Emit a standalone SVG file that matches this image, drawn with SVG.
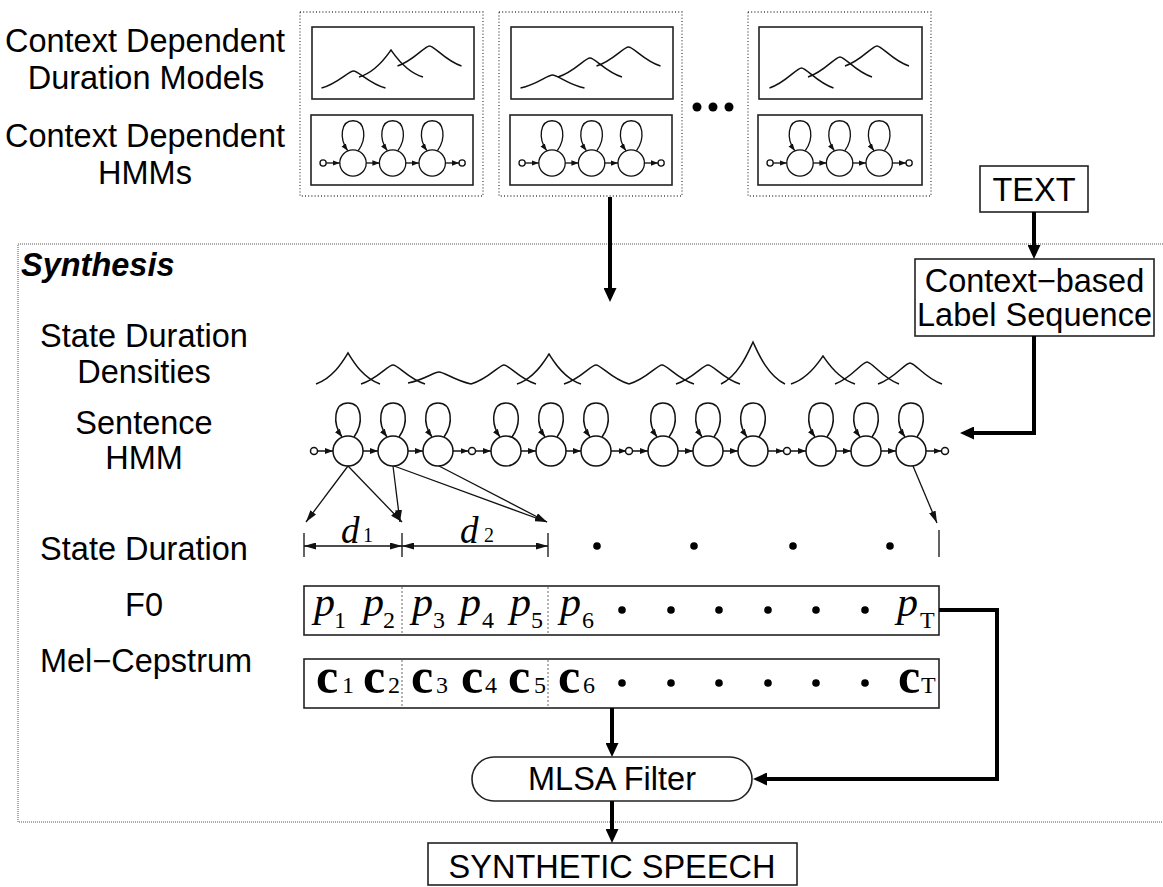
<svg xmlns="http://www.w3.org/2000/svg" xmlns:xlink="http://www.w3.org/1999/xlink" width="1163" height="887" viewBox="0 0 1163 887">
  <style>
    .lbl { font-family: "Liberation Sans", Arial, sans-serif; font-size: 32.5px; fill: #000; }
    .lblc { font-family: "Liberation Sans", Arial, sans-serif; font-size: 32.5px; fill: #000; text-anchor: middle; }
    .title { font-family: "Liberation Sans", Arial, sans-serif; font-size: 32.5px; font-weight: bold; font-style: italic; fill: #000; }
    .pv { font-family: "Liberation Serif", "Times New Roman", serif; font-size: 42px; font-style: italic; fill: #000; }
    .cv { font-family: "Liberation Serif", "Times New Roman", serif; font-size: 50px; font-weight: bold; fill: #000; }
    .dv { font-family: "Liberation Serif", "Times New Roman", serif; font-size: 37px; font-style: italic; fill: #000; }
    .sub { font-family: "Liberation Serif", "Times New Roman", serif; font-size: 24px; fill: #000; }
    .subd { font-family: "Liberation Serif", "Times New Roman", serif; font-size: 20px; fill: #000; }
    .box { fill: #fff; stroke: #222; stroke-width: 1.6; }
    .dotbox { fill: none; stroke: #444; stroke-width: 1.3; stroke-dasharray: 1 2.2; }
    .fine { fill: none; stroke: #555; stroke-width: 1; stroke-dasharray: 1 1; }
    .sep { fill: none; stroke: #666; stroke-width: 1; stroke-dasharray: 2 2; }
    .pdf { fill: none; stroke: #111; stroke-width: 1.5; }
    .st { fill: #fff; stroke: #111; stroke-width: 1.5; }
    .tr { fill: none; stroke: #111; stroke-width: 1.5; marker-end: url(#sm); }
    .thin { fill: none; stroke: #111; stroke-width: 1.3; marker-end: url(#ta); }
    .dim { fill: none; stroke: #111; stroke-width: 1.3; marker-start: url(#da); marker-end: url(#da); }
    .tick { fill: none; stroke: #111; stroke-width: 1.3; }
    .thick { fill: none; stroke: #000; stroke-width: 4; marker-end: url(#big); }
    .dot { fill: #000; }
  </style>
  <defs>
    <marker id="sm" markerUnits="userSpaceOnUse" markerWidth="8" markerHeight="6" refX="8" refY="3" orient="auto">
      <path d="M0,0 L8,3 L0,6 z" fill="#111"/>
    </marker>
    <marker id="ta" markerUnits="userSpaceOnUse" markerWidth="12" markerHeight="7" refX="12" refY="3.5" orient="auto">
      <path d="M0,0 L12,3.5 L0,7 z" fill="#111"/>
    </marker>
    <marker id="da" markerUnits="userSpaceOnUse" markerWidth="12" markerHeight="7" refX="12" refY="3.5" orient="auto-start-reverse">
      <path d="M0,0 L12,3.5 L0,7 z" fill="#111"/>
    </marker>
    <marker id="big" markerUnits="userSpaceOnUse" markerWidth="14" markerHeight="13" refX="9" refY="6.5" orient="auto">
      <path d="M0,0 L14,6.5 L0,13 z" fill="#000"/>
    </marker>
    <!-- one HMM state: circle with a self-loop -->
    <g id="state">
      <path class="tr" d="M6,-14 C16,-28 14,-48 0,-48 C-14,-48 -16,-28 -6,-14"/>
      <circle class="st" cx="0" cy="0" r="15"/>
    </g>
    <!-- three-state left-to-right model, entry node included, exit node drawn separately -->
    <g id="model">
      <circle class="st" cx="-34" cy="0" r="3.5"/>
      <path class="tr" d="M-30.5,0 H-15"/>
      <use xlink:href="#state" x="0" y="0"/>
      <path class="tr" d="M15,0 H30"/>
      <use xlink:href="#state" x="45" y="0"/>
      <path class="tr" d="M60,0 H75"/>
      <use xlink:href="#state" x="90" y="0"/>
      <path class="tr" d="M105,0 H120.5"/>
    </g>
  </defs>

  <rect width="1163" height="887" fill="#fff"/>

  <!-- left-hand labels -->
  <g id="labels">
    <text class="lblc" x="145" y="52">Context Dependent</text>
    <text class="lblc" x="146" y="89">Duration Models</text>
    <text class="lblc" x="145" y="147">Context Dependent</text>
    <text class="lblc" x="145" y="184">HMMs</text>
    <text class="title" x="21" y="276">Synthesis</text>
    <text class="lblc" x="144" y="347">State Duration</text>
    <text class="lblc" x="144" y="383">Densities</text>
    <text class="lblc" x="144" y="434">Sentence</text>
    <text class="lblc" x="144" y="469">HMM</text>
    <text class="lblc" x="144" y="560">State Duration</text>
    <text class="lblc" x="144" y="616">F0</text>
    <text class="lblc" x="146" y="672">Mel−Cepstrum</text>
  </g>

  <!-- synthesis frame -->
  <g id="synthesis-frame">
    <path class="fine" d="M1163,244 H18 V822 H1163"/>
  </g>

  <!-- context dependent model sets -->
  <g id="model-set-1">
    <rect class="dotbox" x="300" y="12" width="183" height="184"/>
    <rect class="box" x="312" y="27" width="162" height="72"/>
    <path class="pdf" d="M321.5,88 C337.5,83.75 348.5,71 353.5,71 C358.5,71 369.5,83.75 385.5,88"/>
    <path class="pdf" d="M359,77 C377,71.6 387,55.4 391,50 C395,55.4 405,71.6 423,77"/>
    <path class="pdf" d="M397.5,66 C413.5,61 424.5,46 429.5,46 C434.5,46 445.5,61 461.5,66"/>
    <rect class="box" x="311" y="115" width="162" height="70"/>
    <g transform="translate(353,163) scale(0.88)">
      <use xlink:href="#model"/>
      <circle class="st" cx="124" cy="0" r="3.5"/>
    </g>
  </g>
  <g id="model-set-2">
    <rect class="dotbox" x="499" y="12" width="183" height="184"/>
    <rect class="box" x="511" y="27" width="162" height="72"/>
    <path class="pdf" d="M520.5,88 C536.5,84.75 547.5,75 552.5,75 C557.5,75 568.5,84.75 584.5,88"/>
    <path class="pdf" d="M558,77 C574,72.25 585,58 590,58 C595,58 606,72.25 622,77"/>
    <path class="pdf" d="M596.5,66 C612.5,61.25 623.5,47 628.5,47 C633.5,47 644.5,61.25 660.5,66"/>
    <rect class="box" x="510" y="115" width="162" height="70"/>
    <g transform="translate(552,163) scale(0.88)">
      <use xlink:href="#model"/>
      <circle class="st" cx="124" cy="0" r="3.5"/>
    </g>
  </g>
  <g id="ellipsis">
    <circle class="dot" cx="697" cy="107" r="4.5"/>
    <circle class="dot" cx="713" cy="107" r="4.5"/>
    <circle class="dot" cx="729" cy="107" r="4.5"/>
  </g>
  <g id="model-set-n">
    <rect class="dotbox" x="748" y="12" width="183" height="184"/>
    <rect class="box" x="759" y="27" width="163" height="72"/>
    <path class="pdf" d="M769.5,88 C785.5,83 796.5,68 801.5,68 C806.5,68 817.5,83 833.5,88"/>
    <path class="pdf" d="M808,77 C824,72 835,57 840,57 C845,57 856,72 872,77"/>
    <path class="pdf" d="M845,66 C861,61 872,46 877,46 C882,46 893,61 909,66"/>
    <rect class="box" x="758" y="115" width="164" height="70"/>
    <g transform="translate(800,163) scale(0.88)">
      <use xlink:href="#model"/>
      <circle class="st" cx="124" cy="0" r="3.5"/>
    </g>
  </g>

  <!-- text input and label sequence -->
  <g id="text-node">
    <rect class="box" x="980" y="166" width="108" height="46"/>
    <text class="lblc" x="1034" y="201">TEXT</text>
  </g>
  <g id="label-sequence">
    <rect class="box" x="915" y="259" width="239" height="77"/>
    <text class="lblc" x="1034.5" y="292">Context−based</text>
    <text class="lblc" x="1034.5" y="326">Label Sequence</text>
  </g>

  <!-- state duration densities -->
  <g id="duration-densities">
    <path class="pdf" d="M316,384 C334,377.8 344,359.2 348,353 C352,359.2 362,377.8 380,384"/>
    <path class="pdf" d="M361,384 C377,379.25 388,365 393,365 C398,365 409,379.25 425,384"/>
    <path class="pdf" d="M408,383 C424,380 434,372 439,372 C444,372 454,380 471,384"/>
    <path class="pdf" d="M471,384 C488,379.25 499,365 504,365 C509,365 520,379.25 536,384"/>
    <path class="pdf" d="M517,384 C535,378 545,360 549,354 C553,360 563,378 581,384"/>
    <path class="pdf" d="M564,384 C580,379.25 591,365 596,365 C601,365 612,379.25 629,384"/>
    <path class="pdf" d="M629,384 C646,379.25 657,365 662,365 C667,365 678,379.25 694,384"/>
    <path class="pdf" d="M676,384 C692,379.25 703,365 708,365 C713,365 724,379.25 740,384"/>
    <path class="pdf" d="M721,384 C739,375.6 749,350.4 753,342 C757,350.4 767,375.6 785,384"/>
    <path class="pdf" d="M791,384 C809,378.4 819,361.6 823,356 C827,361.6 837,378.4 855,384"/>
    <path class="pdf" d="M835,384 C851,378.5 862,362 867,362 C872,362 883,378.5 899,384"/>
    <path class="pdf" d="M878,384 C894,378.75 905,363 910,363 C915,363 926,378.75 942,384"/>
  </g>

  <!-- sentence HMM -->
  <g id="sentence-hmm">
    <use xlink:href="#model" x="348" y="451"/>
    <use xlink:href="#model" x="506" y="451"/>
    <use xlink:href="#model" x="663" y="451"/>
    <use xlink:href="#model" x="821" y="451"/>
    <circle class="st" cx="945" cy="451" r="3.5"/>
  </g>

  <!-- state durations -->
  <g id="state-duration">
    <path class="thin" d="M348,466 L306,522"/>
    <path class="thin" d="M348,466 L402,522"/>
    <path class="thin" d="M393,466 L400,522"/>
    <path class="thin" d="M394,466 L547,522"/>
    <path class="thin" d="M439,466 L547,522"/>
    <path class="thin" d="M913,466 L937,523"/>
    <path class="tick" d="M304,533 V557 M402,533 V557 M548,533 V557 M939,530 V557"/>
    <path class="dim" d="M304,546 H402"/>
    <path class="dim" d="M402,546 H548"/>
    <text class="dv" x="341" y="543">d</text>
    <text class="subd" x="363" y="542">1</text>
    <text class="dv" x="460" y="543">d</text>
    <text class="subd" x="484" y="542">2</text>
    <circle class="dot" cx="597" cy="546" r="3.8"/>
    <circle class="dot" cx="694" cy="546" r="3.8"/>
    <circle class="dot" cx="793" cy="546" r="3.8"/>
    <circle class="dot" cx="890" cy="546" r="3.8"/>
  </g>

  <!-- F0 parameter sequence -->
  <g id="f0">
    <rect class="box" x="304" y="586" width="635" height="49"/>
    <path class="sep" d="M402,587 V634 M548,587 V634"/>
    <text class="pv" x="314" y="616">p</text><text class="sub" x="334" y="628">1</text>
    <text class="pv" x="363" y="616">p</text><text class="sub" x="383" y="628">2</text>
    <text class="pv" x="412" y="616">p</text><text class="sub" x="433" y="628">3</text>
    <text class="pv" x="460" y="616">p</text><text class="sub" x="482" y="628">4</text>
    <text class="pv" x="510" y="616">p</text><text class="sub" x="531" y="628">5</text>
    <text class="pv" x="560" y="616">p</text><text class="sub" x="582" y="628">6</text>
    <text class="pv" x="897" y="616">p</text><text class="sub" x="920" y="628">T</text>
    <circle class="dot" cx="622" cy="610" r="3.8"/>
    <circle class="dot" cx="671" cy="610" r="3.8"/>
    <circle class="dot" cx="719" cy="610" r="3.8"/>
    <circle class="dot" cx="768" cy="610" r="3.8"/>
    <circle class="dot" cx="816" cy="610" r="3.8"/>
    <circle class="dot" cx="865" cy="610" r="3.8"/>
  </g>

  <!-- mel-cepstrum parameter sequence -->
  <g id="mel-cepstrum">
    <rect class="box" x="304" y="659" width="635" height="49"/>
    <path class="sep" d="M402,660 V707 M548,660 V707"/>
    <text class="cv" x="316" y="693">c</text><text class="sub" x="342" y="693">1</text>
    <text class="cv" x="363" y="693">c</text><text class="sub" x="388" y="693">2</text>
    <text class="cv" x="411" y="693">c</text><text class="sub" x="436" y="693">3</text>
    <text class="cv" x="461" y="693">c</text><text class="sub" x="485" y="693">4</text>
    <text class="cv" x="508" y="693">c</text><text class="sub" x="534" y="693">5</text>
    <text class="cv" x="558" y="693">c</text><text class="sub" x="583" y="693">6</text>
    <text class="cv" x="898" y="693">c</text><text class="sub" x="921" y="693">T</text>
    <circle class="dot" cx="622" cy="683" r="3.8"/>
    <circle class="dot" cx="671" cy="683" r="3.8"/>
    <circle class="dot" cx="719" cy="683" r="3.8"/>
    <circle class="dot" cx="768" cy="683" r="3.8"/>
    <circle class="dot" cx="816" cy="683" r="3.8"/>
    <circle class="dot" cx="865" cy="683" r="3.8"/>
  </g>

  <!-- filter and output -->
  <g id="mlsa-filter">
    <rect class="box" x="472" y="757" width="280" height="44" rx="22" ry="22"/>
    <text class="lblc" x="612" y="790">MLSA Filter</text>
  </g>
  <g id="synthetic-speech">
    <rect class="box" x="428" y="843" width="369" height="42"/>
    <text class="lblc" x="612" y="878">SYNTHETIC SPEECH</text>
  </g>

  <!-- connectors -->
  <g id="connectors">
    <path class="thick" d="M610,197 V297"/>
    <path class="thick" d="M1034,212 V254"/>
    <path class="thick" d="M1034,336 V433 H965"/>
    <path class="thick" d="M939,610 H997 V779 H758"/>
    <path class="thick" d="M612,708 V752"/>
    <path class="thick" d="M612,801 V838"/>
  </g>
</svg>
